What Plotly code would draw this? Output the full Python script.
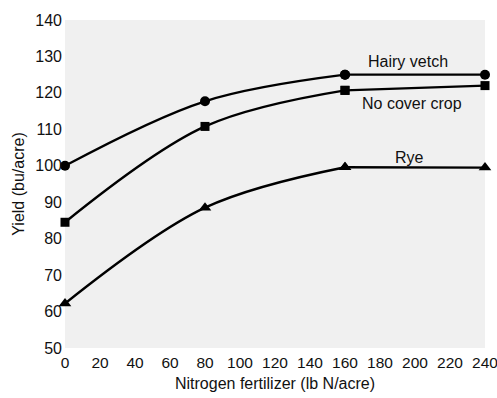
import plotly.graph_objects as go

nitrogen = [0, 80, 160, 240]
hairy_vetch = [100.0, 117.7, 125.0, 125.0]
no_cover = [84.5, 110.8, 120.7, 122.0]
rye = [62.2, 88.5, 99.6, 99.5]

series = [
    ("Hairy vetch", hairy_vetch, "circle", 10),
    ("No cover crop", no_cover, "square", 9),
    ("Rye", rye, "triangle-up", 11),
]
labels = [("Hairy vetch", 196, 128.5), ("No cover crop", 198, 117.2), ("Rye", 197, 102.4)]

fig = go.Figure()
for name, vals, sym, sz in series:
    fig.add_trace(go.Scatter(
        x=nitrogen[:3], y=vals[:3], mode="lines+markers", name=name,
        line=dict(color="black", width=2.4, shape="spline", smoothing=1.0),
        marker=dict(symbol=sym, size=sz, color="black"),
        cliponaxis=False, showlegend=False))
    fig.add_trace(go.Scatter(
        x=nitrogen[2:], y=vals[2:], mode="lines+markers", name=name,
        line=dict(color="black", width=2.4),
        marker=dict(symbol=sym, size=sz, color="black"),
        cliponaxis=False, showlegend=False))

for text, x, y in labels:
    fig.add_annotation(x=x, y=y, text=text, showarrow=False,
                       font=dict(size=16, color="#111"))

font = "Liberation Sans, Arial, sans-serif"
fig.update_layout(
    width=497, height=398,
    margin=dict(l=65, r=12, t=18, b=50),
    paper_bgcolor="white", plot_bgcolor="#f0f0f0",
    font=dict(family=font, size=16, color="#111"),
    xaxis=dict(range=[0, 240], tickvals=list(range(0, 241, 20)), showgrid=False,
               zeroline=False, showline=False, ticks="", automargin=False,
               ticklabelstandoff=3, ticklabeloverflow="allow", tickfont=dict(size=15.5),
               title=dict(text="Nitrogen fertilizer (lb N/acre)", font=dict(size=16), standoff=8)),
    yaxis=dict(range=[50, 140], tickvals=list(range(50, 141, 10)), showgrid=False,
               zeroline=False, showline=False, ticks="", automargin=True,
               ticklabelstandoff=2,
               title=dict(text="Yield (bu/acre)", font=dict(size=16), standoff=6)),
)
fig.write_html("out.html", config={"displayModeBar": False},
               post_script="document.body.style.margin='0';document.body.style.overflow='hidden';")
